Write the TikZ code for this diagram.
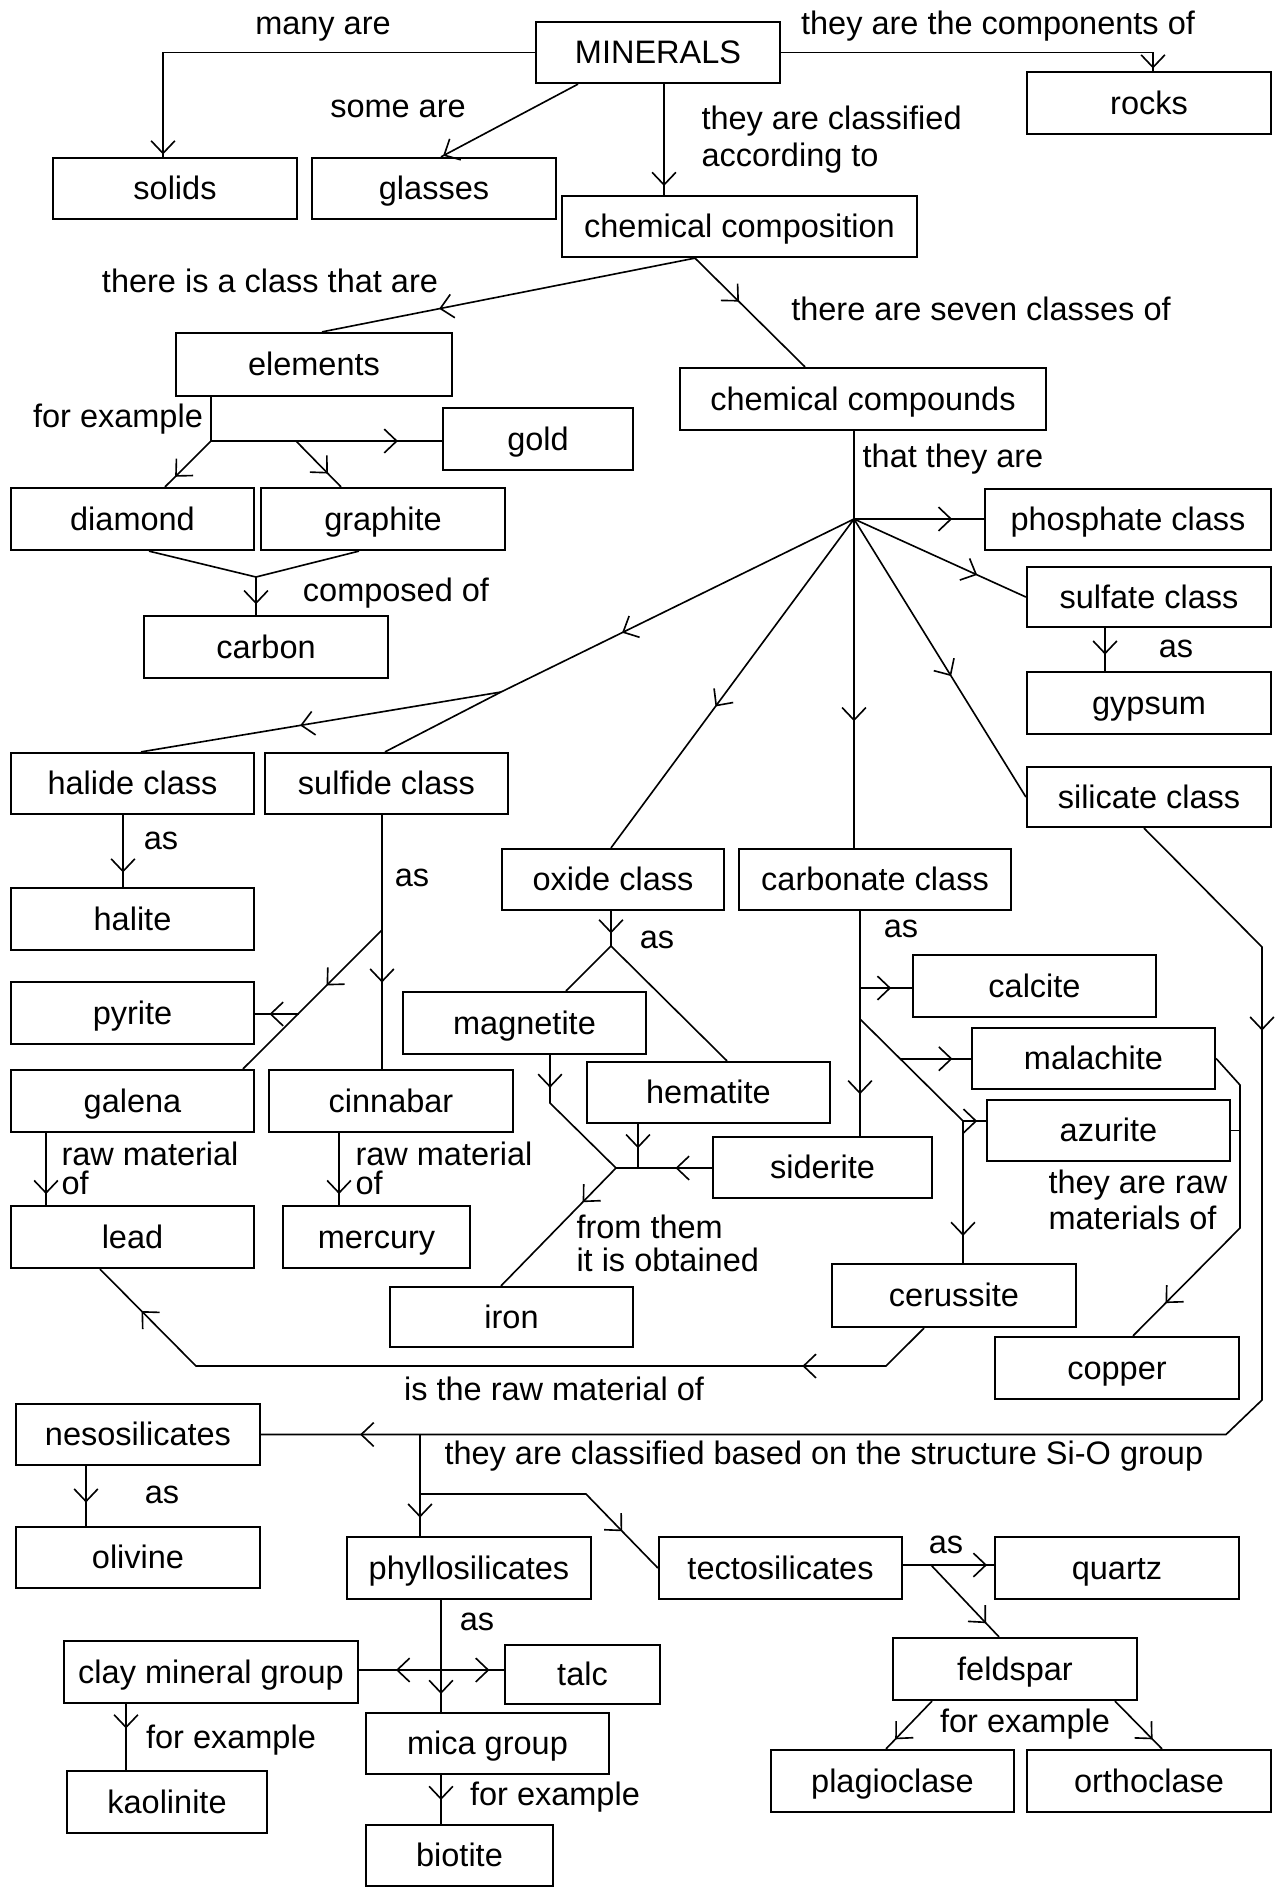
\documentclass[tikz,border=0pt]{standalone}
\usepackage{fontspec}
\setmainfont{Liberation Sans}
\usetikzlibrary{arrows.meta,decorations.markings,calc}
\tikzset{
  myarr/.tip={Straight Barb[length=5pt,width=9.5pt]},
  box/.style={draw, line width=0.9pt, inner sep=0pt, text height=11pt, text depth=2pt},
  conn/.style={line width=0.65pt},
  lab/.style={inner sep=0pt, anchor=mid},
  labw/.style={inner sep=0pt, anchor=mid west},
  am/.style={postaction={decorate, decoration={markings, mark=at position #1 with {\arrow{myarr}}}}}
}
\newcommand\mybox[6]{\node[box, minimum width={(#4-#2)*0.4pt}, minimum height={(#5-#3)*0.4pt}] (#1) at ({(#2+#4)/2},{(#3+#5)/2}) {#6};}
\begin{document}
\begin{tikzpicture}[x=0.4pt,y=-0.4pt,font=\fontsize{13}{15}\selectfont]
\fill[white] (0,0) rectangle (1278,1888);
\useasboundingbox (0,0) rectangle (1278,1888);

% ---------- boxes ----------
\mybox{minerals}{536}{22}{780}{83}{MINERALS}
\mybox{solids}{53}{158}{297}{219}{solids}
\mybox{glasses}{312}{158}{556}{219}{glasses}
\mybox{rocks}{1027}{72}{1271}{134}{rocks}
\mybox{chemcomp}{562}{196}{917}{257}{chemical composition}
\mybox{elements}{176}{333}{452}{396}{elements}
\mybox{gold}{443}{408}{633}{470}{gold}
\mybox{chemcpd}{680}{368}{1046}{430}{chemical compounds}
\mybox{diamond}{11}{488}{254}{550}{diamond}
\mybox{graphite}{261}{488}{505}{550}{graphite}
\mybox{carbon}{144}{616}{388}{678}{carbon}
\mybox{phosphate}{985}{489}{1271}{550}{phosphate class}
\mybox{sulfate}{1027}{567}{1271}{627}{sulfate class}
\mybox{gypsum}{1027}{672}{1271}{734}{gypsum}
\mybox{silicate}{1027}{767}{1271}{827}{silicate class}
\mybox{halide}{11}{753}{254}{814}{halide class}
\mybox{sulfide}{265}{753}{508}{814}{sulfide class}
\mybox{halite}{11}{888}{254}{950}{halite}
\mybox{oxide}{502}{849}{724}{910}{oxide class}
\mybox{carbonate}{739}{849}{1011}{910}{carbonate class}
\mybox{pyrite}{11}{982}{254}{1044}{pyrite}
\mybox{magnetite}{403}{992}{646}{1054}{magnetite}
\mybox{calcite}{913}{955}{1156}{1017}{calcite}
\mybox{malachite}{972}{1028}{1215}{1089}{malachite}
\mybox{hematite}{587}{1062}{830}{1123}{hematite}
\mybox{azurite}{987}{1100}{1230}{1161}{azurite}
\mybox{galena}{11}{1070}{254}{1132}{galena}
\mybox{cinnabar}{269}{1070}{513}{1132}{cinnabar}
\mybox{siderite}{713}{1137}{932}{1198}{siderite}
\mybox{lead}{11}{1206}{254}{1268}{lead}
\mybox{mercury}{283}{1206}{470}{1268}{mercury}
\mybox{cerussite}{832}{1264}{1076}{1327}{cerussite}
\mybox{iron}{390}{1287}{633}{1347}{iron}
\mybox{copper}{995}{1337}{1239}{1399}{copper}
\mybox{neso}{16}{1404}{260}{1465}{nesosilicates}
\mybox{olivine}{16}{1527}{260}{1588}{olivine}
\mybox{phyllo}{347}{1537}{591}{1599}{phyllosilicates}
\mybox{tecto}{659}{1537}{902}{1599}{tectosilicates}
\mybox{quartz}{995}{1537}{1239}{1599}{quartz}
\mybox{clay}{64}{1641}{358}{1703}{clay mineral group}
\mybox{talc}{505}{1645}{660}{1704}{talc}
\mybox{feldspar}{893}{1638}{1137}{1700}{feldspar}
\mybox{kaolinite}{67}{1771}{267}{1833}{kaolinite}
\mybox{mica}{366}{1713}{609}{1774}{mica group}
\mybox{plagio}{771}{1750}{1014}{1812}{plagioclase}
\mybox{ortho}{1027}{1750}{1271}{1812}{orthoclase}
\mybox{biotite}{366}{1825}{553}{1886}{biotite}

% ---------- junction points ----------
\coordinate (elj) at (211,441);
\coordinate (elj2) at (296,441);
\coordinate (cj) at (256,577);
\coordinate (hub) at (854,519);
\coordinate (jhs) at (501,692);
\coordinate (jsf) at (382,930);
\coordinate (jpy) at ($(jsf)!0.6!(243,1070)$);
\coordinate (jox) at (611,946);
\coordinate (jfe) at (616,1168);
\coordinate (jca) at (860,988);
\coordinate (jc2) at (860,1019);
\coordinate (jaz) at (963,1121);
\coordinate (jma) at ($(jc2)!0.39!(jaz)$);
\coordinate (jsi) at (420,1434.5);
\coordinate (jte) at (420,1494);
\coordinate (jph) at (441,1670);
\coordinate (jq) at (931,1565);

% ---------- connectors ----------
\draw[conn, am=0.995] (minerals.west) -| (163,0 |- solids.north);
\draw[conn, am=0.985] (578,0 |- minerals.south) -- (441,0 |- glasses.north);
\draw[conn, am=0.994] (minerals.east) -| (1153,0 |- rocks.north);
\draw[conn, am=0.92] (664,0 |- minerals.south) -- (664,0 |- chemcomp.north);
\draw[conn, am=0.686] (695,0 |- chemcomp.south) -- (322,0 |- elements.north);
\draw[conn, am=0.4] (695,0 |- chemcomp.south) -- (805,0 |- chemcpd.north);
\draw[conn, am=0.84] (211,0 |- elements.south) -- (elj) -- (gold.west |- elj);
\draw[conn, am=0.78] (elj) -- (165,0 |- diamond.north);
\draw[conn, am=0.71] (elj2) -- (341,0 |- graphite.north);
\draw[conn] (149,0 |- diamond.south) -- (cj);
\draw[conn] (359,0 |- graphite.south) -- (cj);
\draw[conn, am=0.72] (cj) -- (256,0 |- carbon.north);

\draw[conn] (854,0 |- chemcpd.south) -- (hub);
\draw[conn, am=0.756] (hub) -- (phosphate.west |- hub);
\draw[conn, am=0.717] (hub) -- (sulfate.west);
\draw[conn, am=0.565] (hub) -- (silicate.west);
\draw[conn, am=0.615] (hub) -- (hub |- carbonate.north);
\draw[conn, am=0.57] (hub) -- (611,0 |- oxide.north);
\draw[conn, am=0.657] (hub) -- (jhs);
\draw[conn, am=0.558] (jhs) -- (141,0 |- halide.north);
\draw[conn] (jhs) -- (385,0 |- sulfide.north);

\draw[conn, am=0.62] (1105,0 |- sulfate.south) -- (1105,0 |- gypsum.north);
\draw[conn, am=0.8] (123,0 |- halide.south) -- (123,0 |- halite.north);
\draw[conn, am=0.66] (382,0 |- sulfide.south) -- (382,0 |- cinnabar.north);
\draw[conn, am=0.4] (jsf) -- (243,0 |- galena.north);
\draw[conn, am=0.67] (jpy) -- (pyrite.east |- jpy);
\draw[conn, am=0.85] (46,0 |- galena.south) -- (46,0 |- lead.north);
\draw[conn, am=0.85] (339,0 |- cinnabar.south) -- (339,0 |- mercury.north);

\draw[conn, am=0.64] (611,0 |- oxide.south) -- (jox);
\draw[conn] (jox) -- (566,0 |- magnetite.north);
\draw[conn] (jox) -- (727,0 |- hematite.north);
\draw[conn, am=0.233] (550,0 |- magnetite.south) -- (550,1103) -- (jfe);
\draw[conn, am=0.55] (638,0 |- hematite.south) -- (638,0 |- jfe);
\draw[conn, am=0.38] (siderite.west |- jfe) -- (jfe);
\draw[conn, am=0.29] (jfe) -- (501,0 |- iron.north);

\draw[conn, am=0.815] (860,0 |- carbonate.south) -- (860,0 |- siderite.north);
\draw[conn, am=0.6] (jca) -- (calcite.west |- jca);
\draw[conn] (jc2) -- (jaz);
\draw[conn, am=0.74] (jma) -- (malachite.west |- jma);
\draw[conn, am=0.62] (jaz) -- (azurite.west |- jaz);
\draw[conn, am=0.81] (jaz) -- (jaz |- cerussite.north);
\draw[conn, am=0.861] (malachite.east) -- (1240,1085) -- (1240,1228) -- (1133,0 |- copper.north);
\draw[conn] (azurite.east) -- (1240,0 |- azurite.east);
\draw[conn, am=0.156, am=0.933] (924,0 |- cerussite.south) -- (886,1366) -- (196,1366) -- (100,0 |- lead.south);

\draw[conn, am=0.1535, am=0.9395] (1144,0 |- silicate.south) -- (1262,947) -- (1262,1400) -- (1226,1434.5) -- (neso.east |- jsi);
\draw[conn, am=0.61] (86,0 |- neso.south) -- (86,0 |- olivine.north);
\draw[conn, am=0.82] (jsi) -- (jsi |- phyllo.north);
\draw[conn, am=0.81] (jte) -- (586,1494) -- (tecto.west);
\draw[conn, am=0.84] (441,0 |- phyllo.south) -- (441,0 |- mica.north);
\draw[conn, am=0.55] (jph) -- (clay.east |- jph);
\draw[conn, am=0.77] (jph) -- (talc.west |- jph);
\draw[conn, am=0.37] (126,0 |- clay.south) -- (126,0 |- kaolinite.north);
\draw[conn, am=0.51] (441,0 |- mica.south) -- (441,0 |- biotite.north);
\draw[conn, am=0.925] (tecto.east |- jq) -- (quartz.west |- jq);
\draw[conn, am=0.81] (jq) -- (999,0 |- feldspar.north);
\draw[conn, am=0.8] (932,0 |- feldspar.south) -- (886,0 |- plagio.north);
\draw[conn, am=0.8] (1115,0 |- feldspar.south) -- (1162,0 |- ortho.north);

% ---------- linking phrases ----------
\node[lab] (l1) at (323,28) {many are};
\node[lab] (l2) at (998,28) {they are the components of};
\node[lab] (l3) at (398,111) {some are};
\node[labw] (l4a) at (701,123) {they are classified};
\node[labw] (l4b) at (701,160) {according to};
\node[lab] (l5) at (270,286) {there is a class that are};
\node[lab] (l6) at (981,314) {there are seven classes of};
\node[lab] (l7) at (118,421) {for example};
\node[lab] (l8) at (953,461) {that they are};
\node[lab] (l9) at (396,595) {composed of};
\node[lab] (l10) at (1176,651) {as};
\node[lab] (l11) at (161,843) {as};
\node[lab] (l12) at (412,880) {as};
\node[lab] (l13) at (657,942) {as};
\node[lab] (l14) at (901,931) {as};
\node[labw] (l15a) at (61,1159) {raw material};
\node[labw] (l15b) at (61,1188) {of};
\node[labw] (l16a) at (355,1159) {raw material};
\node[labw] (l16b) at (355,1188) {of};
\node[labw] (l17a) at (1048,1187) {they are raw};
\node[labw] (l17b) at (1048,1223) {materials of};
\node[labw] (l18a) at (576,1232) {from them};
\node[labw] (l18b) at (576,1265) {it is obtained};
\node[lab] (l19) at (554,1394) {is the raw material of};
\node[labw] (l20) at (444,1458) {they are classified based on the structure Si-O group};
\node[lab] (l21) at (162,1497) {as};
\node[lab] (l22) at (477,1624) {as};
\node[lab] (l23) at (946,1547) {as};
\node[lab] (l24) at (231,1742) {for example};
\node[lab] (l25) at (555,1799) {for example};
\node[lab] (l26) at (1025,1726) {for example};
\end{tikzpicture}
\end{document}
